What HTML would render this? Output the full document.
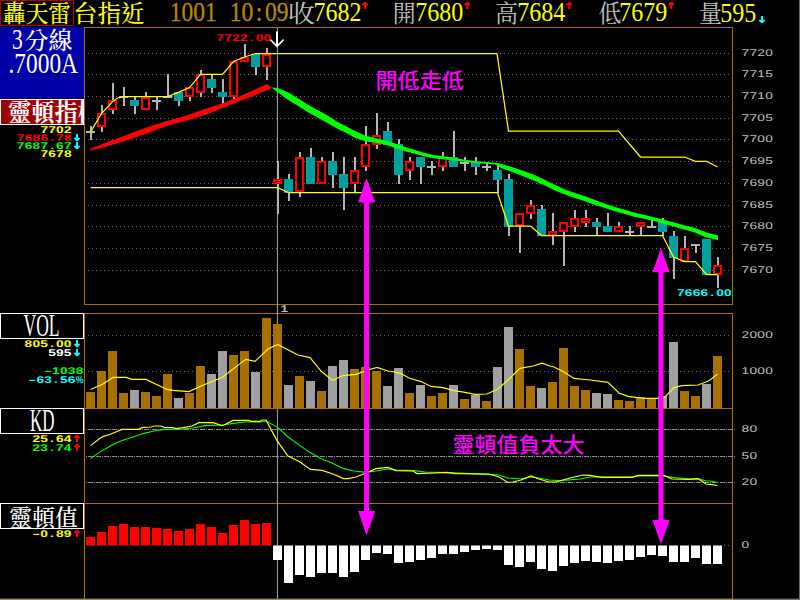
<!DOCTYPE html>
<html lang="zh-Hant"><head><meta charset="utf-8"><title>轟天雷 台指近 3分線</title>
<style>
html,body{margin:0;padding:0;background:#000;}
body{width:800px;height:600px;overflow:hidden;}
svg{display:block;position:absolute;left:0;top:0;}
.ming{font-family:"Liberation Serif","Noto Serif CJK SC",serif;font-size:24px;font-weight:500;}
.lat{font-family:"Liberation Serif",serif;font-size:24px;}
.dig{font-family:"Liberation Serif",serif;font-size:27px;}
.px{font-family:"Liberation Sans","DejaVu Sans",sans-serif;font-size:9.8px;font-weight:bold;text-rendering:geometricPrecision;}
.ax{font-family:"Liberation Sans","DejaVu Sans",sans-serif;font-size:9.8px;text-rendering:geometricPrecision;}
.note{font-family:"Liberation Sans","Noto Sans CJK TC",sans-serif;font-size:21px;font-weight:500;fill:#ff00ff;}
</style></head><body>
<svg width="800" height="600" viewBox="0 0 800 600">
<rect x="0" y="0" width="800" height="600" fill="#000"/>
<g fill="none" stroke="#a87000" stroke-width="1">
<rect x="84.5" y="27.5" width="648.0" height="277"/>
<rect x="84.5" y="313.5" width="648.0" height="95"/>
<rect x="84.5" y="408.5" width="648.0" height="95"/>
<path d="M84.5 503.5V599M732.5 503.5V599"/>
</g>
<rect x="0" y="598.6" width="733" height="1.4" fill="#9c8860"/>
<rect x="733" y="598.6" width="67" height="1.4" fill="#707070"/>
<rect x="799" y="0" width="1" height="600" fill="#6a6a6a"/>
<g stroke="#707070" stroke-width="1" stroke-dasharray="1 3" fill="none">
<path d="M88 270.5H736"/>
<path d="M88 248.5H736"/>
<path d="M88 226.5H736"/>
<path d="M88 205.5H736"/>
<path d="M88 183.5H736"/>
<path d="M88 161.5H736"/>
<path d="M88 139.5H736"/>
<path d="M88 118.5H736"/>
<path d="M88 96.5H736"/>
<path d="M88 74.5H736"/>
<path d="M88 53.5H736"/>
<path d="M88 335.5H736M88 371.5H736"/>
<path d="M720 545.5H736"/>
</g>
<g stroke="#8c8c8c" stroke-width="1" stroke-dasharray="1 1 5 1" fill="none">
<path d="M86 429.5H736M86 456.5H736M86 482.5H736"/>
</g>
<rect x="276.9" y="28" width="1.1" height="571" fill="#989898"/>
<rect x="90.0" y="126.0" width="2" height="14.0" fill="#b4b4b4"/>
<rect x="86.0" y="131.0" width="9" height="2" fill="#b4b4b4"/>
<rect x="101.0" y="105.0" width="2" height="27.0" fill="#b4b4b4"/>
<rect x="97.0" y="113.0" width="9" height="14.0" fill="#000"/>
<rect x="98.00" y="114.00" width="7" height="12.00" fill="none" stroke="#ff0000" stroke-width="2"/>
<rect x="112.0" y="83.0" width="2" height="31.0" fill="#b4b4b4"/>
<rect x="108.0" y="100.0" width="9" height="10.0" fill="#000"/>
<rect x="109.00" y="101.00" width="7" height="8.00" fill="none" stroke="#ff0000" stroke-width="2"/>
<rect x="123.0" y="87.0" width="2" height="19.0" fill="#b4b4b4"/>
<rect x="119.0" y="96.0" width="9" height="2" fill="#b4b4b4"/>
<rect x="134.0" y="97.0" width="2" height="17.0" fill="#b4b4b4"/>
<rect x="130.0" y="100.0" width="9" height="6.0" fill="#00a0a0"/>
<rect x="145.0" y="92.0" width="2" height="18.0" fill="#b4b4b4"/>
<rect x="141.0" y="97.0" width="9" height="13.0" fill="#000"/>
<rect x="142.00" y="98.00" width="7" height="11.00" fill="none" stroke="#ff0000" stroke-width="2"/>
<rect x="156.0" y="97.0" width="2" height="13.0" fill="#b4b4b4"/>
<rect x="152.0" y="100.0" width="9" height="2" fill="#b4b4b4"/>
<rect x="167.0" y="74.0" width="2" height="24.0" fill="#b4b4b4"/>
<rect x="163.0" y="96.0" width="9" height="2" fill="#b4b4b4"/>
<rect x="178.0" y="92.0" width="2" height="14.0" fill="#b4b4b4"/>
<rect x="174.0" y="92.0" width="9" height="9.0" fill="#00a0a0"/>
<rect x="189.0" y="87.0" width="2" height="14.0" fill="#b4b4b4"/>
<rect x="185.0" y="87.0" width="9" height="10.0" fill="#000"/>
<rect x="186.00" y="88.00" width="7" height="8.00" fill="none" stroke="#ff0000" stroke-width="2"/>
<rect x="200.0" y="70.0" width="2" height="27.0" fill="#b4b4b4"/>
<rect x="196.0" y="74.0" width="9" height="19.0" fill="#000"/>
<rect x="197.00" y="75.00" width="7" height="17.00" fill="none" stroke="#ff0000" stroke-width="2"/>
<rect x="211.0" y="74.0" width="2" height="19.0" fill="#b4b4b4"/>
<rect x="207.0" y="79.0" width="9" height="9.0" fill="#00a0a0"/>
<rect x="222.0" y="79.0" width="2" height="25.0" fill="#b4b4b4"/>
<rect x="218.0" y="92.0" width="9" height="5.0" fill="#00a0a0"/>
<rect x="233.0" y="61.0" width="2" height="38.0" fill="#b4b4b4"/>
<rect x="229.0" y="61.0" width="9" height="36.0" fill="#000"/>
<rect x="230.00" y="62.00" width="7" height="34.00" fill="none" stroke="#ff0000" stroke-width="2"/>
<rect x="244.0" y="44.0" width="2" height="18.0" fill="#b4b4b4"/>
<rect x="240.0" y="57.0" width="9" height="5.0" fill="#000"/>
<rect x="241.00" y="58.00" width="7" height="3.00" fill="none" stroke="#ff0000" stroke-width="2"/>
<rect x="255.0" y="54.0" width="2" height="21.0" fill="#b4b4b4"/>
<rect x="251.0" y="54.0" width="9" height="13.0" fill="#00a0a0"/>
<rect x="266.0" y="48.0" width="2" height="32.0" fill="#b4b4b4"/>
<rect x="262.0" y="54.0" width="9" height="13.0" fill="#000"/>
<rect x="263.00" y="55.00" width="7" height="11.00" fill="none" stroke="#ff0000" stroke-width="2"/>
<rect x="277.0" y="161.0" width="2" height="53.0" fill="#b4b4b4"/>
<rect x="273.0" y="179.0" width="9" height="5.0" fill="#000"/>
<rect x="274.00" y="180.00" width="7" height="3.00" fill="none" stroke="#ff0000" stroke-width="2"/>
<rect x="288.0" y="174.0" width="2" height="27.0" fill="#b4b4b4"/>
<rect x="284.0" y="179.0" width="9" height="14.0" fill="#00a0a0"/>
<rect x="299.0" y="152.0" width="2" height="45.0" fill="#b4b4b4"/>
<rect x="295.0" y="157.0" width="9" height="35.0" fill="#000"/>
<rect x="296.00" y="158.00" width="7" height="33.00" fill="none" stroke="#ff0000" stroke-width="2"/>
<rect x="310.0" y="148.0" width="2" height="36.0" fill="#b4b4b4"/>
<rect x="306.0" y="157.0" width="9" height="27.0" fill="#00a0a0"/>
<rect x="321.0" y="157.0" width="2" height="27.0" fill="#b4b4b4"/>
<rect x="317.0" y="161.0" width="9" height="23.0" fill="#000"/>
<rect x="318.00" y="162.00" width="7" height="21.00" fill="none" stroke="#ff0000" stroke-width="2"/>
<rect x="332.0" y="152.0" width="2" height="36.0" fill="#b4b4b4"/>
<rect x="328.0" y="161.0" width="9" height="14.0" fill="#00a0a0"/>
<rect x="343.0" y="157.0" width="2" height="53.0" fill="#b4b4b4"/>
<rect x="339.0" y="174.0" width="9" height="14.0" fill="#00a0a0"/>
<rect x="354.0" y="157.0" width="2" height="35.0" fill="#b4b4b4"/>
<rect x="350.0" y="170.0" width="9" height="14.0" fill="#000"/>
<rect x="351.00" y="171.00" width="7" height="12.00" fill="none" stroke="#ff0000" stroke-width="2"/>
<rect x="365.0" y="126.0" width="2" height="45.0" fill="#b4b4b4"/>
<rect x="361.0" y="144.0" width="9" height="23.0" fill="#000"/>
<rect x="362.00" y="145.00" width="7" height="21.00" fill="none" stroke="#ff0000" stroke-width="2"/>
<rect x="376.0" y="113.0" width="2" height="36.0" fill="#b4b4b4"/>
<rect x="372.0" y="135.0" width="9" height="10.0" fill="#000"/>
<rect x="373.00" y="136.00" width="7" height="8.00" fill="none" stroke="#ff0000" stroke-width="2"/>
<rect x="387.0" y="122.0" width="2" height="23.0" fill="#b4b4b4"/>
<rect x="383.0" y="131.0" width="9" height="14.0" fill="#00a0a0"/>
<rect x="398.0" y="139.0" width="2" height="45.0" fill="#b4b4b4"/>
<rect x="394.0" y="144.0" width="9" height="31.0" fill="#00a0a0"/>
<rect x="409.0" y="157.0" width="2" height="23.0" fill="#b4b4b4"/>
<rect x="405.0" y="161.0" width="9" height="10.0" fill="#000"/>
<rect x="406.00" y="162.00" width="7" height="8.00" fill="none" stroke="#ff0000" stroke-width="2"/>
<rect x="420.0" y="157.0" width="2" height="27.0" fill="#b4b4b4"/>
<rect x="416.0" y="157.0" width="9" height="10.0" fill="#00a0a0"/>
<rect x="431.0" y="161.0" width="2" height="14.0" fill="#b4b4b4"/>
<rect x="427.0" y="166.0" width="9" height="2" fill="#b4b4b4"/>
<rect x="442.0" y="152.0" width="2" height="19.0" fill="#b4b4b4"/>
<rect x="438.0" y="157.0" width="9" height="10.0" fill="#000"/>
<rect x="439.00" y="158.00" width="7" height="8.00" fill="none" stroke="#ff0000" stroke-width="2"/>
<rect x="453.0" y="131.0" width="2" height="36.0" fill="#b4b4b4"/>
<rect x="449.0" y="157.0" width="9" height="10.0" fill="#00a0a0"/>
<rect x="464.0" y="157.0" width="2" height="14.0" fill="#b4b4b4"/>
<rect x="460.0" y="162.0" width="9" height="2" fill="#b4b4b4"/>
<rect x="475.0" y="157.0" width="2" height="18.0" fill="#b4b4b4"/>
<rect x="471.0" y="162.0" width="9" height="5.0" fill="#00a0a0"/>
<rect x="486.0" y="162.0" width="2" height="9.0" fill="#b4b4b4"/>
<rect x="482.0" y="166.0" width="9" height="2" fill="#b4b4b4"/>
<rect x="497.0" y="166.0" width="2" height="27.0" fill="#b4b4b4"/>
<rect x="493.0" y="170.0" width="9" height="10.0" fill="#00a0a0"/>
<rect x="508.0" y="174.0" width="2" height="62.0" fill="#b4b4b4"/>
<rect x="504.0" y="179.0" width="9" height="48.0" fill="#00a0a0"/>
<rect x="519.0" y="213.0" width="2" height="40.0" fill="#b4b4b4"/>
<rect x="515.0" y="213.0" width="9" height="13.0" fill="#000"/>
<rect x="516.00" y="214.00" width="7" height="11.00" fill="none" stroke="#ff0000" stroke-width="2"/>
<rect x="530.0" y="200.0" width="2" height="19.0" fill="#b4b4b4"/>
<rect x="526.0" y="205.0" width="9" height="9.0" fill="#000"/>
<rect x="527.00" y="206.00" width="7" height="7.00" fill="none" stroke="#ff0000" stroke-width="2"/>
<rect x="541.0" y="205.0" width="2" height="31.0" fill="#b4b4b4"/>
<rect x="537.0" y="209.0" width="9" height="27.0" fill="#00a0a0"/>
<rect x="552.0" y="213.0" width="2" height="32.0" fill="#b4b4b4"/>
<rect x="548.0" y="231.0" width="9" height="5.0" fill="#000"/>
<rect x="549.00" y="232.00" width="7" height="3.00" fill="none" stroke="#ff0000" stroke-width="2"/>
<rect x="563.0" y="222.0" width="2" height="44.0" fill="#b4b4b4"/>
<rect x="559.0" y="222.0" width="9" height="10.0" fill="#000"/>
<rect x="560.00" y="223.00" width="7" height="8.00" fill="none" stroke="#ff0000" stroke-width="2"/>
<rect x="574.0" y="210.0" width="2" height="22.0" fill="#b4b4b4"/>
<rect x="570.0" y="218.0" width="9" height="9.0" fill="#000"/>
<rect x="571.00" y="219.00" width="7" height="7.00" fill="none" stroke="#ff0000" stroke-width="2"/>
<rect x="585.0" y="210.0" width="2" height="17.0" fill="#b4b4b4"/>
<rect x="581.0" y="218.0" width="9" height="5.0" fill="#000"/>
<rect x="582.00" y="219.00" width="7" height="3.00" fill="none" stroke="#ff0000" stroke-width="2"/>
<rect x="596.0" y="218.0" width="2" height="17.0" fill="#b4b4b4"/>
<rect x="592.0" y="222.0" width="9" height="5.0" fill="#00a0a0"/>
<rect x="607.0" y="213.0" width="2" height="19.0" fill="#b4b4b4"/>
<rect x="603.0" y="226.0" width="9" height="6.0" fill="#00a0a0"/>
<rect x="618.0" y="222.0" width="2" height="10.0" fill="#b4b4b4"/>
<rect x="614.0" y="226.0" width="9" height="6.0" fill="#000"/>
<rect x="615.00" y="227.00" width="7" height="4.00" fill="none" stroke="#ff0000" stroke-width="2"/>
<rect x="629.0" y="226.0" width="2" height="9.0" fill="#b4b4b4"/>
<rect x="625.0" y="231.0" width="9" height="2" fill="#b4b4b4"/>
<rect x="640.0" y="222.0" width="2" height="13.0" fill="#b4b4b4"/>
<rect x="636.0" y="222.0" width="9" height="5.0" fill="#000"/>
<rect x="637.00" y="223.00" width="7" height="3.00" fill="none" stroke="#ff0000" stroke-width="2"/>
<rect x="651.0" y="220.0" width="2" height="7.0" fill="#b4b4b4"/>
<rect x="647.0" y="226.0" width="9" height="2" fill="#b4b4b4"/>
<rect x="662.0" y="218.0" width="2" height="18.0" fill="#b4b4b4"/>
<rect x="658.0" y="222.0" width="9" height="10.0" fill="#00a0a0"/>
<rect x="673.0" y="231.0" width="2" height="48.0" fill="#b4b4b4"/>
<rect x="669.0" y="236.0" width="9" height="22.0" fill="#00a0a0"/>
<rect x="684.0" y="236.0" width="2" height="26.0" fill="#b4b4b4"/>
<rect x="680.0" y="248.0" width="9" height="14.0" fill="#000"/>
<rect x="681.00" y="249.00" width="7" height="12.00" fill="none" stroke="#ff0000" stroke-width="2"/>
<rect x="695.0" y="245.0" width="2" height="8.0" fill="#b4b4b4"/>
<rect x="691.0" y="244.0" width="9" height="2" fill="#b4b4b4"/>
<rect x="706.0" y="239.0" width="2" height="36.0" fill="#b4b4b4"/>
<rect x="702.0" y="239.0" width="9" height="36.0" fill="#00a0a0"/>
<rect x="717.0" y="257.0" width="2" height="31.0" fill="#b4b4b4"/>
<rect x="713.0" y="265.0" width="9" height="10.0" fill="#000"/>
<rect x="714.00" y="266.00" width="7" height="8.00" fill="none" stroke="#ff0000" stroke-width="2"/>
<polyline points="90.5,132.0 101.5,113.6 112.5,101.6 118.0,97.8 123.5,96.6 167.5,96.6 178.5,92.4 189.5,87.6 200.5,74.4 222.5,74.4 233.5,61.5 244.5,57.0 255.5,53.5 497.0,53.5 508.5,131.0 618.5,131.0 640.5,157.0 684.5,157.0 695.5,161.3 706.5,161.3 717.5,167.0" fill="none" stroke="#ffff00" stroke-width="1.25"/>
<polyline points="90.5,187.5 277.5,187.5 288.5,192.5 497.5,192.5 508.5,226.0 530.5,226.0 541.5,235.5 662.5,235.5 673.5,257.0 684.5,261.5 695.5,261.5 706.5,274.6 717.5,274.6" fill="none" stroke="#ffff00" stroke-width="1.25"/>
<polygon points="90.0,149.0 105.0,143.0 125.0,135.6 145.0,128.0 165.0,121.6 185.0,116.0 205.0,109.0 225.0,102.5 245.0,94.0 255.0,89.4 266.9,84.0 272.0,87.5 269.0,89.6 265.0,91.0 255.0,95.2 245.0,99.0 225.0,107.0 205.0,115.0 185.0,121.0 165.0,126.4 145.0,134.0 125.0,141.0 105.0,147.0 90.0,150.5" fill="#ff0000"/>
<polygon points="272.0,87.5 277.5,87.9 287.5,91.9 297.5,98.0 307.5,104.4 317.5,110.0 327.5,115.6 337.5,121.9 347.5,127.0 355.0,131.0 365.0,135.6 375.0,138.0 385.0,140.2 395.0,143.5 405.0,146.9 415.0,150.0 425.0,153.0 435.0,155.3 445.0,156.5 455.0,158.1 465.0,159.8 475.0,161.0 485.0,161.9 495.0,162.8 500.0,163.5 505.0,165.0 515.0,168.1 525.0,171.6 535.0,175.3 545.0,180.0 555.0,185.0 565.0,189.4 575.0,193.1 585.0,196.2 595.0,200.0 605.0,203.8 615.0,206.9 625.0,209.7 635.0,212.8 645.0,215.0 655.0,217.5 665.0,220.0 675.0,222.8 685.0,225.4 695.0,228.1 705.0,231.9 715.0,234.8 718.0,235.6 718.0,240.0 715.0,239.4 705.0,236.9 695.0,232.5 685.0,229.8 675.0,227.1 665.0,224.0 655.0,221.2 645.0,219.0 635.0,216.9 625.0,213.9 615.0,211.2 605.0,208.1 595.0,205.0 585.0,201.2 575.0,198.1 565.0,194.4 555.0,190.6 545.0,185.6 535.0,181.0 525.0,176.9 515.0,173.1 505.0,169.4 500.0,167.5 495.0,164.4 485.0,163.8 475.0,163.1 465.0,162.1 455.0,160.6 445.0,159.5 435.0,158.4 425.0,156.5 415.0,153.8 405.0,151.2 395.0,148.0 385.0,144.4 375.0,142.8 365.0,141.2 355.0,137.8 347.5,133.5 337.5,128.8 327.5,123.0 317.5,117.5 307.5,111.9 297.5,105.6 287.5,99.4 277.5,91.9 272.0,88.0" fill="#00ff00"/>
<rect x="86" y="392.0" width="9" height="16.0" fill="#a87000"/>
<rect x="97" y="371.0" width="9" height="37.0" fill="#a87000"/>
<rect x="108" y="351.0" width="9" height="57.0" fill="#a87000"/>
<rect x="119" y="393.0" width="9" height="15.0" fill="#a87000"/>
<rect x="130" y="390.0" width="9" height="18.0" fill="#a0a0a0"/>
<rect x="141" y="392.0" width="9" height="16.0" fill="#a87000"/>
<rect x="152" y="396.0" width="9" height="12.0" fill="#a87000"/>
<rect x="163" y="374.0" width="9" height="34.0" fill="#a87000"/>
<rect x="174" y="398.0" width="9" height="10.0" fill="#a0a0a0"/>
<rect x="185" y="393.0" width="9" height="15.0" fill="#a87000"/>
<rect x="196" y="366.0" width="9" height="42.0" fill="#a87000"/>
<rect x="207" y="374.0" width="9" height="34.0" fill="#a0a0a0"/>
<rect x="218" y="351.0" width="9" height="57.0" fill="#a0a0a0"/>
<rect x="229" y="355.0" width="9" height="53.0" fill="#a87000"/>
<rect x="240" y="351.0" width="9" height="57.0" fill="#a87000"/>
<rect x="251" y="372.0" width="9" height="36.0" fill="#a0a0a0"/>
<rect x="262" y="318.0" width="9" height="90.0" fill="#a87000"/>
<rect x="273" y="324.0" width="9" height="84.0" fill="#a87000"/>
<rect x="284" y="385.0" width="9" height="23.0" fill="#a0a0a0"/>
<rect x="295" y="376.0" width="9" height="32.0" fill="#a87000"/>
<rect x="306" y="381.0" width="9" height="27.0" fill="#a0a0a0"/>
<rect x="317" y="391.0" width="9" height="17.0" fill="#a87000"/>
<rect x="328" y="366.0" width="9" height="42.0" fill="#a0a0a0"/>
<rect x="339" y="360.0" width="9" height="48.0" fill="#a0a0a0"/>
<rect x="350" y="369.0" width="9" height="39.0" fill="#a87000"/>
<rect x="361" y="367.0" width="9" height="41.0" fill="#a87000"/>
<rect x="372" y="371.0" width="9" height="37.0" fill="#a87000"/>
<rect x="383" y="386.0" width="9" height="22.0" fill="#a0a0a0"/>
<rect x="394" y="368.0" width="9" height="40.0" fill="#a0a0a0"/>
<rect x="405" y="393.0" width="9" height="15.0" fill="#a87000"/>
<rect x="416" y="385.0" width="9" height="23.0" fill="#a0a0a0"/>
<rect x="427" y="396.0" width="9" height="12.0" fill="#a87000"/>
<rect x="438" y="393.0" width="9" height="15.0" fill="#a87000"/>
<rect x="449" y="385.0" width="9" height="23.0" fill="#a0a0a0"/>
<rect x="460" y="399.0" width="9" height="9.0" fill="#a87000"/>
<rect x="471" y="395.0" width="9" height="13.0" fill="#a0a0a0"/>
<rect x="482" y="401.0" width="9" height="7.0" fill="#a87000"/>
<rect x="493" y="367.0" width="9" height="41.0" fill="#a0a0a0"/>
<rect x="504" y="327.0" width="9" height="81.0" fill="#a0a0a0"/>
<rect x="515" y="349.0" width="9" height="59.0" fill="#a87000"/>
<rect x="526" y="386.0" width="9" height="22.0" fill="#a87000"/>
<rect x="537" y="388.0" width="9" height="20.0" fill="#a0a0a0"/>
<rect x="548" y="382.0" width="9" height="26.0" fill="#a87000"/>
<rect x="559" y="348.0" width="9" height="60.0" fill="#a87000"/>
<rect x="570" y="386.0" width="9" height="22.0" fill="#a87000"/>
<rect x="581" y="390.0" width="9" height="18.0" fill="#a87000"/>
<rect x="592" y="393.0" width="9" height="15.0" fill="#a0a0a0"/>
<rect x="603" y="394.0" width="9" height="14.0" fill="#a0a0a0"/>
<rect x="614" y="400.0" width="9" height="8.0" fill="#a87000"/>
<rect x="625" y="401.0" width="9" height="7.0" fill="#a87000"/>
<rect x="636" y="397.4" width="9" height="10.6" fill="#a87000"/>
<rect x="647" y="399.0" width="9" height="9.0" fill="#a87000"/>
<rect x="658" y="396.0" width="9" height="12.0" fill="#a0a0a0"/>
<rect x="669" y="342.0" width="9" height="66.0" fill="#a0a0a0"/>
<rect x="680" y="391.0" width="9" height="17.0" fill="#a87000"/>
<rect x="691" y="396.0" width="9" height="12.0" fill="#a87000"/>
<rect x="702" y="384.0" width="9" height="24.0" fill="#a0a0a0"/>
<rect x="713" y="356.0" width="9" height="52.0" fill="#a87000"/>
<polyline points="90.6,389.6 103.0,384.0 113.0,377.4 126.0,377.4 132.0,379.4 146.0,379.4 167.0,389.4 173.0,390.4 189.0,391.6 201.0,386.0 223.0,377.0 240.0,363.6 246.0,359.4 255.0,361.4 268.0,349.0 277.6,344.4 298.0,355.0 310.0,357.6 321.0,371.0 332.4,380.4 343.0,375.6 356.0,374.4 368.0,370.0 377.0,367.4 388.0,371.0 395.0,372.0 401.0,373.6 409.0,378.0 421.0,381.6 431.0,386.4 443.0,387.6 453.0,390.4 465.0,392.4 475.0,394.4 487.0,394.0 498.0,389.0 509.0,379.0 520.0,368.4 533.0,366.0 542.0,363.2 550.0,366.0 554.0,367.0 564.0,372.0 574.0,378.4 590.0,380.0 608.0,382.4 619.0,393.0 628.0,396.4 636.0,397.4 646.0,398.4 657.0,398.4 664.0,398.0 674.0,387.6 682.0,385.6 698.0,385.0 706.0,382.0 710.0,380.0 717.5,374.0" fill="none" stroke="#ffff00" stroke-width="1.15"/>
<path d="M84.5 408.5H732.5" stroke="#a87000" stroke-width="1"/>
<polyline points="90.6,458.6 99.0,452.6 111.0,445.6 122.0,440.6 133.0,437.0 143.0,433.6 154.0,431.0 165.0,429.4 183.0,429.0 193.0,428.0 205.0,425.6 223.0,425.0 233.0,423.4 245.0,422.0 260.0,422.0 266.0,421.0 278.0,427.6 288.0,437.0 300.0,445.6 310.0,452.6 321.0,458.6 332.0,463.0 343.0,468.4 354.0,471.0 366.0,472.4 376.0,471.0 388.0,469.0 396.0,470.0 414.0,470.6 425.0,472.0 447.0,472.6 471.0,473.6 491.0,474.6 499.0,475.0 508.0,478.0 521.0,479.0 531.0,477.0 539.0,478.0 549.0,480.0 560.0,480.6 580.0,479.0 590.0,477.0 632.0,477.0 638.0,476.0 664.0,476.0 672.0,477.4 690.0,479.0 698.0,478.6 706.0,481.0 710.0,481.0 717.5,482.5" fill="none" stroke="#00ff00" stroke-width="1.1"/>
<polyline points="90.6,445.6 99.0,439.0 103.0,436.6 111.0,434.0 122.0,429.4 138.0,429.4 143.0,427.4 151.0,427.0 154.0,426.0 161.0,426.0 164.0,427.4 173.0,427.6 176.0,428.6 183.0,427.6 192.0,426.0 199.0,422.6 213.0,422.6 221.0,425.4 224.0,425.0 233.0,420.4 249.0,420.4 251.0,421.4 260.0,421.4 262.0,420.0 266.0,420.0 277.0,440.6 288.0,456.0 300.0,462.0 310.4,469.4 322.0,470.4 333.0,474.0 343.6,478.6 348.0,478.6 356.0,477.0 366.0,473.0 376.0,468.6 388.0,467.4 396.0,470.6 413.0,471.0 417.0,473.6 435.0,473.0 447.0,472.4 455.0,473.6 489.0,474.0 499.0,477.0 508.0,482.4 513.0,482.0 521.0,480.0 531.0,476.0 539.0,479.0 549.0,482.0 556.0,482.0 570.0,478.0 583.0,475.0 590.0,475.4 602.0,477.4 632.0,477.4 638.0,475.4 664.0,475.4 672.0,479.0 690.0,479.4 698.0,478.6 706.0,484.0 710.0,484.4 717.5,485.5" fill="none" stroke="#ffff00" stroke-width="1.2"/>
<rect x="86" y="537.0" width="9" height="8.5" fill="#ff0000"/>
<rect x="97" y="532.0" width="9" height="13.5" fill="#ff0000"/>
<rect x="108" y="526.0" width="9" height="19.5" fill="#ff0000"/>
<rect x="119" y="524.0" width="9" height="21.5" fill="#ff0000"/>
<rect x="130" y="527.0" width="9" height="18.5" fill="#ff0000"/>
<rect x="141" y="527.0" width="9" height="18.5" fill="#ff0000"/>
<rect x="152" y="528.0" width="9" height="17.5" fill="#ff0000"/>
<rect x="163" y="529.0" width="9" height="16.5" fill="#ff0000"/>
<rect x="174" y="531.0" width="9" height="14.5" fill="#ff0000"/>
<rect x="185" y="529.0" width="9" height="16.5" fill="#ff0000"/>
<rect x="196" y="524.0" width="9" height="21.5" fill="#ff0000"/>
<rect x="207" y="527.0" width="9" height="18.5" fill="#ff0000"/>
<rect x="218" y="533.0" width="9" height="12.5" fill="#ff0000"/>
<rect x="229" y="525.0" width="9" height="20.5" fill="#ff0000"/>
<rect x="240" y="520.0" width="9" height="25.5" fill="#ff0000"/>
<rect x="251" y="524.0" width="9" height="21.5" fill="#ff0000"/>
<rect x="262" y="523.0" width="9" height="22.5" fill="#ff0000"/>
<rect x="273" y="545.5" width="9" height="14.5" fill="#ffffff"/>
<rect x="284" y="545.5" width="9" height="37.5" fill="#ffffff"/>
<rect x="295" y="545.5" width="9" height="29.5" fill="#ffffff"/>
<rect x="306" y="545.5" width="9" height="31.5" fill="#ffffff"/>
<rect x="317" y="545.5" width="9" height="27.5" fill="#ffffff"/>
<rect x="328" y="545.5" width="9" height="27.5" fill="#ffffff"/>
<rect x="339" y="545.5" width="9" height="31.5" fill="#ffffff"/>
<rect x="350" y="545.5" width="9" height="26.5" fill="#ffffff"/>
<rect x="361" y="545.5" width="9" height="14.5" fill="#ffffff"/>
<rect x="372" y="545.5" width="9" height="7.5" fill="#ffffff"/>
<rect x="383" y="545.5" width="9" height="8.5" fill="#ffffff"/>
<rect x="394" y="545.5" width="9" height="17.5" fill="#ffffff"/>
<rect x="405" y="545.5" width="9" height="16.5" fill="#ffffff"/>
<rect x="416" y="545.5" width="9" height="14.5" fill="#ffffff"/>
<rect x="427" y="545.5" width="9" height="12.5" fill="#ffffff"/>
<rect x="438" y="545.5" width="9" height="8.5" fill="#ffffff"/>
<rect x="449" y="545.5" width="9" height="8.5" fill="#ffffff"/>
<rect x="460" y="545.5" width="9" height="6.5" fill="#ffffff"/>
<rect x="471" y="545.5" width="9" height="4.5" fill="#ffffff"/>
<rect x="482" y="545.5" width="9" height="3.5" fill="#ffffff"/>
<rect x="493" y="545.5" width="9" height="4.5" fill="#ffffff"/>
<rect x="504" y="545.5" width="9" height="19.5" fill="#ffffff"/>
<rect x="515" y="545.5" width="9" height="21.5" fill="#ffffff"/>
<rect x="526" y="545.5" width="9" height="16.5" fill="#ffffff"/>
<rect x="537" y="545.5" width="9" height="23.5" fill="#ffffff"/>
<rect x="548" y="545.5" width="9" height="25.5" fill="#ffffff"/>
<rect x="559" y="545.5" width="9" height="20.5" fill="#ffffff"/>
<rect x="570" y="545.5" width="9" height="17.5" fill="#ffffff"/>
<rect x="581" y="545.5" width="9" height="15.5" fill="#ffffff"/>
<rect x="592" y="545.5" width="9" height="16.5" fill="#ffffff"/>
<rect x="603" y="545.5" width="9" height="17.5" fill="#ffffff"/>
<rect x="614" y="545.5" width="9" height="15.5" fill="#ffffff"/>
<rect x="625" y="545.5" width="9" height="14.5" fill="#ffffff"/>
<rect x="636" y="545.5" width="9" height="11.5" fill="#ffffff"/>
<rect x="647" y="545.5" width="9" height="9.5" fill="#ffffff"/>
<rect x="658" y="545.5" width="9" height="10.5" fill="#ffffff"/>
<rect x="669" y="545.5" width="9" height="16.5" fill="#ffffff"/>
<rect x="680" y="545.5" width="9" height="16.5" fill="#ffffff"/>
<rect x="691" y="545.5" width="9" height="12.5" fill="#ffffff"/>
<rect x="702" y="545.5" width="9" height="18.5" fill="#ffffff"/>
<rect x="713" y="545.5" width="9" height="18.5" fill="#ffffff"/>
<polygon fill="#ff00ff" points="366.6,178.0 375.1,202.5 369.1,202.5 369.1,511.0 375.1,511.0 366.6,535.5 358.1,511.0 364.1,511.0 364.1,202.5 358.1,202.5"/>
<polygon fill="#ff00ff" points="661.0,247.8 669.5,272.3 663.5,272.3 663.5,520.0 669.5,520.0 661.0,544.5 652.5,520.0 658.5,520.0 658.5,272.3 652.5,272.3"/>
<rect x="276" y="31.5" width="2" height="15" fill="#fff"/>
<path d="M271 40.3L277 46.4L283 40.3" fill="none" stroke="#fff" stroke-width="1.7" stroke-linecap="square"/>
<rect x="0" y="27" width="84" height="71.5" fill="#0000a8"/>
<g shape-rendering="crispEdges">
<rect x="0.5" y="99.5" width="83" height="25" fill="#a00000" stroke="#fff" stroke-width="1"/>
<rect x="0.5" y="0.5" width="73" height="25" fill="#000" stroke="#b00000" stroke-width="1"/>
<rect x="0.5" y="313.5" width="83" height="25" fill="#000" stroke="#fff" stroke-width="1"/>
<rect x="0.5" y="408.5" width="83" height="25" fill="#000" stroke="#fff" stroke-width="1"/>
<rect x="0.5" y="503.5" width="83" height="25" fill="#000" stroke="#fff" stroke-width="1"/>
</g>
<text x="3.0" y="21.5" class="ming" fill="#ffff00" textLength="68.0" lengthAdjust="spacingAndGlyphs" >轟天雷</text>
<text x="73.4" y="21.5" class="ming" fill="#ffff00" textLength="71.6" lengthAdjust="spacingAndGlyphs" >台指近</text>
<text class="dig" fill="#b8860b" stroke="#b8860b" stroke-width="0.3" transform="translate(169.80,21.20) scale(0.87,1)" x="0.00 13.51 27.01 40.52" y="0">1001</text>
<text class="dig" fill="#b8860b" stroke="#b8860b" stroke-width="0.3" transform="translate(229.70,21.20) scale(0.87,1)" x="0.00 13.51 30.01 40.52 54.03" y="0">10:09</text>
<text x="287.8" y="22.3" class="ming" fill="#c0c0c0" textLength="27.0" lengthAdjust="spacingAndGlyphs" style="font-weight:400">收</text>
<text class="dig" fill="#ffff00" transform="translate(313.50,21.20) scale(0.89,1)" x="-0.01 13.47 26.96 40.44" y="0">7682</text>
<text x="392.8" y="22.3" class="ming" fill="#c0c0c0" textLength="23.0" lengthAdjust="spacingAndGlyphs" style="font-weight:400">開</text>
<text class="dig" fill="#ffff00" transform="translate(415.20,21.20) scale(0.89,1)" x="-0.01 13.47 26.96 40.44" y="0">7680</text>
<text x="495.0" y="22.3" class="ming" fill="#c0c0c0" textLength="23.0" lengthAdjust="spacingAndGlyphs" style="font-weight:400">高</text>
<text class="dig" fill="#ffff00" transform="translate(517.20,21.20) scale(0.89,1)" x="-0.01 13.47 26.96 40.44" y="0">7684</text>
<text x="598.5" y="22.3" class="ming" fill="#c0c0c0" textLength="23.0" lengthAdjust="spacingAndGlyphs" style="font-weight:400">低</text>
<text class="dig" fill="#ffff00" transform="translate(619.20,21.20) scale(0.89,1)" x="-0.01 13.47 26.96 40.44" y="0">7679</text>
<text x="699.0" y="22.3" class="ming" fill="#c0c0c0" textLength="23.0" lengthAdjust="spacingAndGlyphs" style="font-weight:400">量</text>
<text class="dig" fill="#ffff00" transform="translate(720.30,21.90) scale(0.89,1)" x="-0.01 13.47 26.96" y="0">595</text>
<polygon points="364.0,9.0 366.0,9.0 366.0,5.2 368.0,5.2 368.0,4.3 365.9,2.0 364.1,2.0 362.0,4.3 362.0,5.2 364.0,5.2" fill="#ff0000"/>
<polygon points="466.3,9.0 468.3,9.0 468.3,5.2 470.3,5.2 470.3,4.3 468.2,2.0 466.4,2.0 464.3,4.3 464.3,5.2 466.3,5.2" fill="#ff0000"/>
<polygon points="568.3,9.0 570.3,9.0 570.3,5.2 572.3,5.2 572.3,4.3 570.2,2.0 568.4,2.0 566.3,4.3 566.3,5.2 568.3,5.2" fill="#ff0000"/>
<polygon points="670.3,9.0 672.3,9.0 672.3,5.2 674.3,5.2 674.3,4.3 672.2,2.0 670.4,2.0 668.3,4.3 668.3,5.2 670.3,5.2" fill="#ff0000"/>
<polygon points="761.0,16.0 763.0,16.0 763.0,19.8 765.0,19.8 765.0,20.7 762.9,23.0 761.1,23.0 759.0,20.7 759.0,19.8 761.0,19.8" fill="#00ffff"/>
<text class="lat" fill="#fff" transform="translate(12,49.3) scale(1,1.22)" textLength="10.8" lengthAdjust="spacingAndGlyphs">3</text>
<text x="24.5" y="48.5" class="ming" fill="#fff" textLength="48.0" lengthAdjust="spacingAndGlyphs" >分線</text>
<text class="lat" fill="#fff" transform="translate(8.5,73) scale(1,1.22)" textLength="69.5" lengthAdjust="spacingAndGlyphs">.7000A</text>
<clipPath id="cb"><rect x="1" y="100" width="82.6" height="24"/></clipPath>
<g clip-path="url(#cb)">
<text x="8.3" y="121.3" class="ming" fill="#fff" textLength="92.5" lengthAdjust="spacingAndGlyphs" style="font-weight:700;font-size:23.5px">靈頓指標</text>
</g>
<text class="lat" fill="#fff" transform="translate(23.5,336) scale(1,1.29)" textLength="36" lengthAdjust="spacingAndGlyphs">VOL</text>
<text class="lat" fill="#fff" transform="translate(30,431) scale(1,1.31)" textLength="24.5" lengthAdjust="spacingAndGlyphs">KD</text>
<text x="9.3" y="525.6" class="ming" fill="#fff" textLength="68.5" lengthAdjust="spacingAndGlyphs" style="font-size:23px">靈頓值</text>
<text class="px" fill="#ffff00" transform="translate(40.30,133.00) scale(1.40,1)" x="0.08 5.69 11.29 16.90" y="0">7702</text>
<text class="px" fill="#ff0000" transform="translate(16.75,141.00) scale(1.40,1)" x="0.08 5.69 11.29 16.90 23.87 28.11 33.72" y="0">7686.78</text>
<polygon points="76.0,134.0 78.0,134.0 78.0,137.8 80.0,137.8 80.0,138.7 77.9,141.0 76.1,141.0 74.0,138.7 74.0,137.8 76.0,137.8" fill="#00ffff"/>
<text class="px" fill="#00ff00" transform="translate(16.75,149.00) scale(1.40,1)" x="0.08 5.69 11.29 16.90 23.87 28.11 33.72" y="0">7687.67</text>
<polygon points="76.0,142.0 78.0,142.0 78.0,145.8 80.0,145.8 80.0,146.7 77.9,149.0 76.1,149.0 74.0,146.7 74.0,145.8 76.0,145.8" fill="#00ffff"/>
<text class="px" fill="#ffff00" transform="translate(40.30,157.00) scale(1.40,1)" x="0.08 5.69 11.29 16.90" y="0">7678</text>
<text class="px" fill="#ffff00" transform="translate(24.50,347.00) scale(1.40,1)" x="0.08 5.69 11.29 18.26 22.51 28.11" y="0">805.00</text>
<polygon points="76.0,340.0 78.0,340.0 78.0,343.8 80.0,343.8 80.0,344.7 77.9,347.0 76.1,347.0 74.0,344.7 74.0,343.8 76.0,343.8" fill="#00ffff"/>
<text class="px" fill="#fff" transform="translate(48.05,356.00) scale(1.40,1)" x="0.08 5.69 11.29" y="0">595</text>
<polygon points="76.0,349.0 78.0,349.0 78.0,352.8 80.0,352.8 80.0,353.7 77.9,356.0 76.1,356.0 74.0,353.7 74.0,352.8 76.0,352.8" fill="#00ffff"/>
<text class="px" fill="#00ff00" transform="translate(44.32,374.00) scale(2.3,1)" x="0" y="0">-</text>
<text class="px" fill="#00ff00" transform="translate(44.15,374.00) scale(1.40,1)" x="5.69 11.29 16.90 22.51" y="0">1038</text>
<text class="px" fill="#00ffff" transform="translate(28.62,383.00) scale(2.3,1)" x="0" y="0">-</text>
<text class="px" fill="#00ffff" transform="translate(75.85,383.00) scale(0.9,1)" x="0" y="0">%</text>
<text class="px" fill="#00ffff" transform="translate(28.45,383.00) scale(1.40,1)" x="5.69 11.29 18.26 22.51 28.11" y="0">63.56</text>
<text class="px" fill="#ffff00" transform="translate(32.35,442.00) scale(1.40,1)" x="0.08 5.69 12.66 16.90 22.51" y="0">25.64</text>
<polygon points="76.0,442.0 78.0,442.0 78.0,438.2 80.0,438.2 80.0,437.3 77.9,435.0 76.1,435.0 74.0,437.3 74.0,438.2 76.0,438.2" fill="#ff0000"/>
<text class="px" fill="#00ff00" transform="translate(32.35,451.00) scale(1.40,1)" x="0.08 5.69 12.66 16.90 22.51" y="0">23.74</text>
<polygon points="76.0,451.0 78.0,451.0 78.0,447.2 80.0,447.2 80.0,446.3 77.9,444.0 76.1,444.0 74.0,446.3 74.0,447.2 76.0,447.2" fill="#ff0000"/>
<text class="px" fill="#ffff00" transform="translate(32.52,537.00) scale(2.3,1)" x="0" y="0">-</text>
<text class="px" fill="#ffff00" transform="translate(32.35,537.00) scale(1.40,1)" x="5.69 12.66 16.90 22.51" y="0">0.89</text>
<polygon points="76.0,537.0 78.0,537.0 78.0,533.2 80.0,533.2 80.0,532.3 77.9,530.0 76.1,530.0 74.0,532.3 74.0,533.2 76.0,533.2" fill="#ff0000"/>
<text class="px" fill="#ff0000" transform="translate(216.35,41.00) scale(1.40,1)" x="0.08 5.69 11.29 16.90 23.87 28.11 33.72" y="0">7722.00</text>
<text class="px" fill="#00ffff" transform="translate(676.85,296.00) scale(1.40,1)" x="0.08 5.69 11.29 16.90 23.87 28.11 33.72" y="0">7666.00</text>
<text class="px" fill="#b8b8b8" transform="translate(280.30,312.00) scale(1.40,1)" x="0.08" y="0">1</text>
<text class="ax" fill="#c0c0c0" transform="translate(741.50,273.00) scale(1.40,1)" x="0.08 5.69 11.29 16.90" y="0">7670</text>
<text class="ax" fill="#c0c0c0" transform="translate(741.50,251.00) scale(1.40,1)" x="0.08 5.69 11.29 16.90" y="0">7675</text>
<text class="ax" fill="#c0c0c0" transform="translate(741.50,229.00) scale(1.40,1)" x="0.08 5.69 11.29 16.90" y="0">7680</text>
<text class="ax" fill="#c0c0c0" transform="translate(741.50,208.00) scale(1.40,1)" x="0.08 5.69 11.29 16.90" y="0">7685</text>
<text class="ax" fill="#c0c0c0" transform="translate(741.50,186.00) scale(1.40,1)" x="0.08 5.69 11.29 16.90" y="0">7690</text>
<text class="ax" fill="#c0c0c0" transform="translate(741.50,164.00) scale(1.40,1)" x="0.08 5.69 11.29 16.90" y="0">7695</text>
<text class="ax" fill="#c0c0c0" transform="translate(741.50,142.00) scale(1.40,1)" x="0.08 5.69 11.29 16.90" y="0">7700</text>
<text class="ax" fill="#c0c0c0" transform="translate(741.50,121.00) scale(1.40,1)" x="0.08 5.69 11.29 16.90" y="0">7705</text>
<text class="ax" fill="#c0c0c0" transform="translate(741.50,99.00) scale(1.40,1)" x="0.08 5.69 11.29 16.90" y="0">7710</text>
<text class="ax" fill="#c0c0c0" transform="translate(741.50,77.00) scale(1.40,1)" x="0.08 5.69 11.29 16.90" y="0">7715</text>
<text class="ax" fill="#c0c0c0" transform="translate(741.50,56.00) scale(1.40,1)" x="0.08 5.69 11.29 16.90" y="0">7720</text>
<text class="ax" fill="#c0c0c0" transform="translate(741.50,338.00) scale(1.40,1)" x="0.08 5.69 11.29 16.90" y="0">2000</text>
<text class="ax" fill="#c0c0c0" transform="translate(741.50,374.00) scale(1.40,1)" x="0.08 5.69 11.29 16.90" y="0">1000</text>
<text class="ax" fill="#c0c0c0" transform="translate(741.50,432.00) scale(1.40,1)" x="0.08 5.69" y="0">80</text>
<text class="ax" fill="#c0c0c0" transform="translate(741.50,459.00) scale(1.40,1)" x="0.08 5.69" y="0">50</text>
<text class="ax" fill="#c0c0c0" transform="translate(741.50,485.00) scale(1.40,1)" x="0.08 5.69" y="0">20</text>
<text class="ax" fill="#c0c0c0" transform="translate(741.50,548.00) scale(1.40,1)" x="0.08" y="0">0</text>
<text x="375.4" y="88.2" class="note" textLength="88.6" lengthAdjust="spacingAndGlyphs" >開低走低</text>
<text x="452.6" y="451.7" class="note" textLength="132.0" lengthAdjust="spacingAndGlyphs" >靈頓值負太大</text>
</svg></body></html>
